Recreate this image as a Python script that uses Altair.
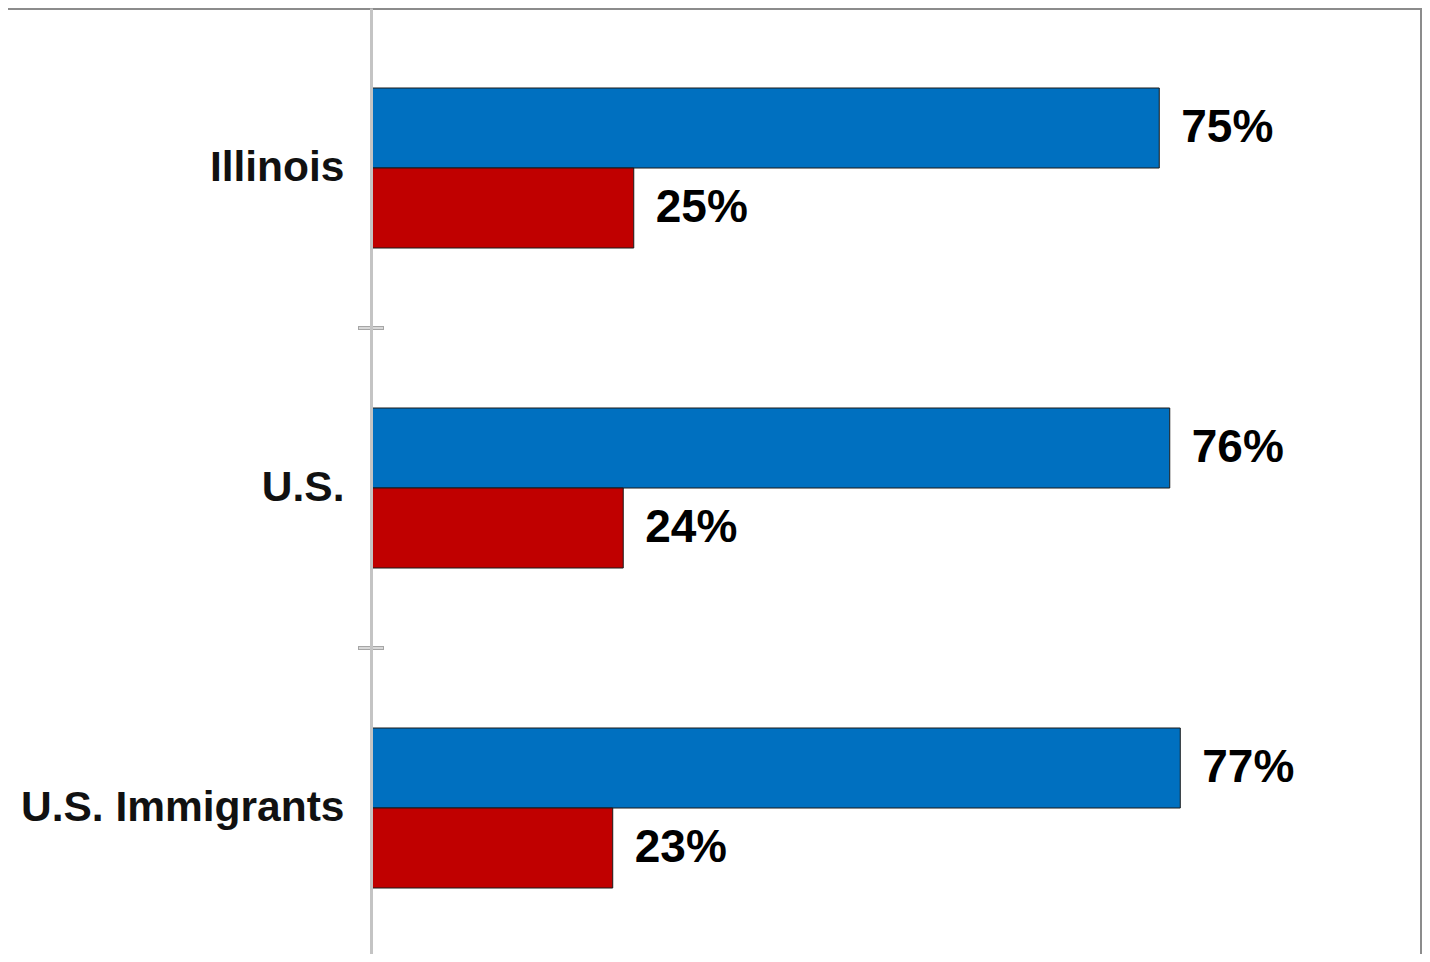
import altair as alt
import pandas as pd

categories = ["Illinois", "U.S.", "U.S. Immigrants"]
series = ["Series 1", "Series 2"]
values_blue = [75, 76, 77]
values_red = [25, 24, 23]
colors = ["#0070C0", "#C00000"]

rows = []
for c, b, r in zip(categories, values_blue, values_red):
    rows.append({"category": c, "series": series[0], "value": b, "label": f"{b}%"})
    rows.append({"category": c, "series": series[1], "value": r, "label": f"{r}%"})
df = pd.DataFrame(rows)

tick_df = pd.DataFrame({"category": categories[1:]})
one = pd.DataFrame({"a": [0]})

W, H = 1051, 960
FONT = "Liberation Sans"

yscale = alt.Scale(domain=categories, paddingInner=0, paddingOuter=0)
yaxis = alt.Axis(title=None, labelFontSize=42.5, labelFont=FONT, labelFontWeight="bold",
                 labelColor="#111111", ticks=False, labelPadding=27, domainColor="#c4c4c4",
                 domainWidth=3, zindex=1, labelLimit=0, grid=False)

base = alt.Chart(df).encode(
    y=alt.Y("category:N", scale=yscale, axis=yaxis),
    yOffset=alt.YOffset("series:N", sort=series, scale=alt.Scale(paddingInner=0, paddingOuter=1)),
    x=alt.X("value:Q", scale=alt.Scale(domain=[0, 100]), axis=None),
)

bars = base.mark_bar(stroke="#1a1a1a", strokeWidth=1).encode(
    color=alt.Color("series:N", scale=alt.Scale(domain=series, range=colors), legend=None)
)

labels = base.mark_text(align="left", baseline="middle", dx=22, fontSize=46, font=FONT,
                        fontWeight="bold", color="#000000").encode(text=alt.Text("label:N"))

ticks_outline = alt.Chart(tick_df).mark_rule(color="#a6a6a6", strokeWidth=4).encode(
    y=alt.Y("category:N", scale=yscale, bandPosition=0, axis=yaxis),
    x=alt.value(-13), x2=alt.value(13),
)
ticks = alt.Chart(tick_df).mark_rule(color="#d8d8d8", strokeWidth=2).encode(
    y=alt.Y("category:N", scale=yscale, bandPosition=0, axis=yaxis),
    x=alt.value(-12), x2=alt.value(12),
)

frame_top = alt.Chart(one).mark_rule(color="#8c8c8c", strokeWidth=2).encode(
    x=alt.value(-363), x2=alt.value(W), y=alt.value(1)
)
frame_right = alt.Chart(one).mark_rule(color="#8c8c8c", strokeWidth=2).encode(
    x=alt.value(W - 1), y=alt.value(0), y2=alt.value(H)
)

chart = alt.layer(bars, labels, ticks_outline, ticks, frame_top, frame_right).properties(
    width=W, height=H,
    autosize=alt.AutoSizeParams(type="none"),
    padding={"left": 363, "top": 0, "right": 0, "bottom": -14},
).configure_view(stroke=None)

chart.save("out.html", embed_options={"renderer": "svg", "actions": False})
